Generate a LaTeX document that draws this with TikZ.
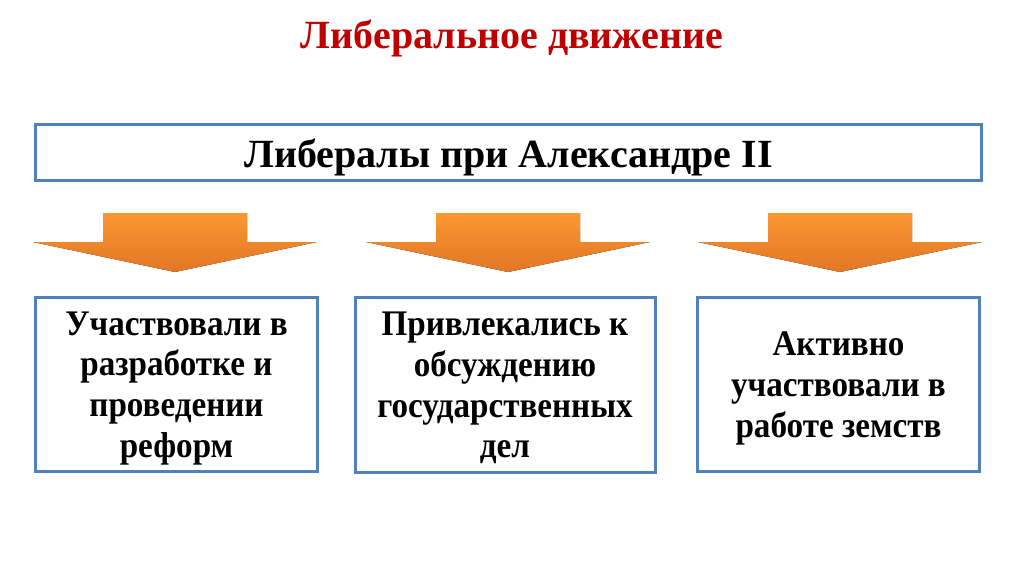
\documentclass[tikz,border=0pt]{standalone}
\usepackage{fontspec}
\setmainfont{Liberation Serif}
\newfontfamily\narrowserif[FakeStretch=0.92]{Liberation Serif}
\usetikzlibrary{positioning}
\definecolor{liberalRed}{RGB}{192,0,0}
\definecolor{liberalBlue}{RGB}{79,129,189}
\definecolor{liberalOrangeTop}{RGB}{250,152,50}
\definecolor{liberalOrangeBot}{RGB}{226,118,38}
\tikzset{
  % page title in red, boxes framed in blue, orange block arrows
  titletext/.style={
    text=liberalRed,
    font=\bfseries\fontsize{30}{34}\selectfont
  },
  headbox/.style={
    draw=liberalBlue,
    line width=2.25pt,
    fill=white,
    minimum width=710pt,
    minimum height=42pt,
    text depth=0pt,
    font=\bfseries\fontsize{30}{34}\selectfont
  },
  itembox/.style={
    draw=liberalBlue,
    line width=2.25pt,
    fill=white,
    minimum width=#1,
    minimum height=131pt,
    align=center,
    text depth=0pt,
    font=\narrowserif\bfseries\fontsize{27}{30.5}\selectfont
  },
  itembox/.default=212pt,
  downarrow/.pic={
    \fill[top color=liberalOrangeTop, bottom color=liberalOrangeBot]
      (-72,0) -- (72,0) -- (72,29) -- (142,29) -- (0,59)
      -- (-142,29) -- (-72,29) -- cycle;
  }
}
\begin{document}
\begin{tikzpicture}[x=0.75pt,y=-0.75pt]
\useasboundingbox (0,0) rectangle (1024,574);

\node[titletext] (title) at (512,38) {Либеральное движение};

\node[headbox] (head) at (508.5,153) {Либералы при Александре II};

\pic at (175,213) {downarrow};
\pic at (508,213) {downarrow};
\pic at (840,213) {downarrow};

\node[itembox] (reforms) at (176.5,384.5)
{Участвовали в\\ разработке и\\ проведении\\ реформ};
\node[itembox=225pt] (affairs) at (505,385)
{Привлекались к\\ обсуждению\\ государственных\\ дел};
\node[itembox] (zemstvo) at (838.5,384.5)
{Активно\\ участвовали в\\ работе земств};

\end{tikzpicture}
\end{document}
